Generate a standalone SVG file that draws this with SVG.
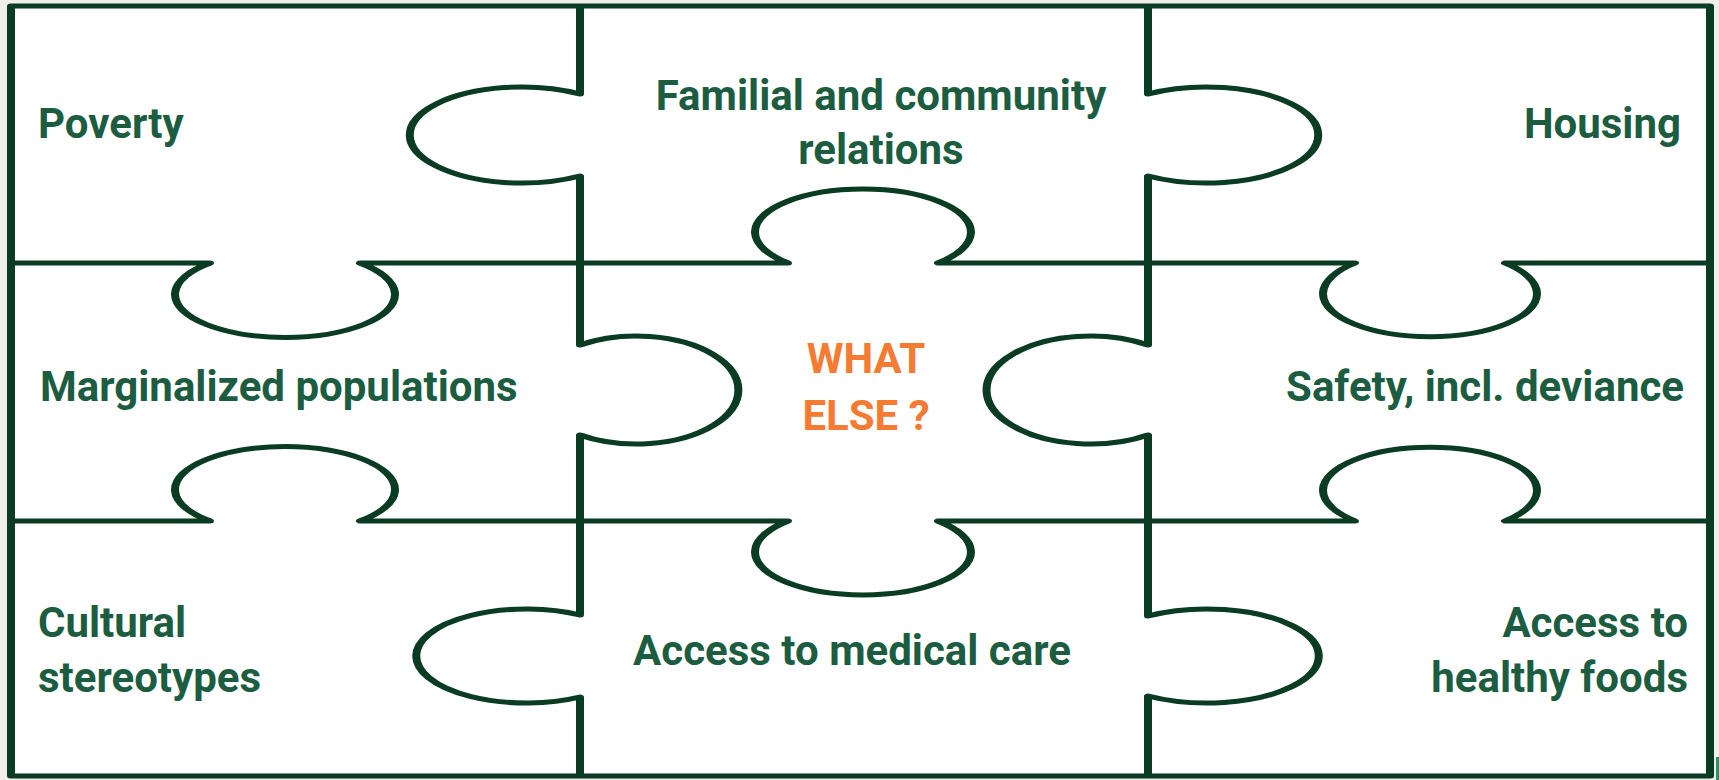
<svg xmlns="http://www.w3.org/2000/svg" width="1719" height="780" viewBox="0 0 1719 780">
<style>
.ln{fill:none;stroke:#0a3b23;stroke-width:5;stroke-linejoin:round}
.t{font-family:Roboto,"Liberation Sans",sans-serif;font-weight:bold;font-size:42px;fill:#1c5d41}
.o{fill:#f47b31}
.m{text-anchor:middle}
.e{text-anchor:end}
</style>
<rect x="0" y="0" width="1719" height="780" fill="#f0efe9"/>
<rect x="11" y="6" width="1699" height="770" fill="#ffffff"/>
<rect x="1716" y="757" width="3" height="23" fill="#1b9a66"/>
<g id="connectors" transform="scale(1.6,1)">
<rect class="ln" x="6.875" y="6" width="1061.875" height="770"/>
<path class="ln" d="M362.5 6 V94 A70 48 0 1 0 362.5 176 V345 A63.75 54 0 1 1 362.5 435 V615 A68.75 47 0 1 0 362.5 697 V776"/>
<path class="ln" d="M717.5 6 V94 A70 48 0 1 1 717.5 176 V345 A65 54 0 1 0 717.5 435 V616 A70 47 0 1 1 717.5 696 V776"/>
<path class="ln" d="M6.875 263 H131.25 A68.75 43 0 1 0 225 263 H492.5 A67.5 43 0 1 1 586.25 263 H846.875 A66.875 43 0 1 0 940.625 263 H1068.75"/>
<path class="ln" d="M6.875 521 H131.25 A68.75 43 0 1 1 225 521 H492.5 A67.5 43 0 1 0 586.25 521 H846.875 A66.875 43 0 1 1 940.625 521 H1068.75"/>
</g>
<g id="poverty"><text class="t" x="38" y="138">Poverty</text></g>
<g id="familial"><text class="t m" x="881" y="110">Familial and community</text><text class="t m" x="881" y="164">relations</text></g>
<g id="housing"><text class="t e" x="1681" y="138">Housing</text></g>
<g id="marginalized"><text class="t" x="40" y="401">Marginalized populations</text></g>
<g id="what-else"><text class="t o m" x="866" y="373">WHAT</text><text class="t o m" x="866" y="430">ELSE ?</text></g>
<g id="safety"><text class="t e" x="1684" y="401">Safety, incl. deviance</text></g>
<g id="cultural"><text class="t" x="38" y="637">Cultural</text><text class="t" x="38" y="692">stereotypes</text></g>
<g id="medical"><text class="t m" x="852" y="665">Access to medical care</text></g>
<g id="foods"><text class="t e" x="1688" y="637">Access to</text><text class="t e" x="1688" y="692">healthy foods</text></g>
</svg>
